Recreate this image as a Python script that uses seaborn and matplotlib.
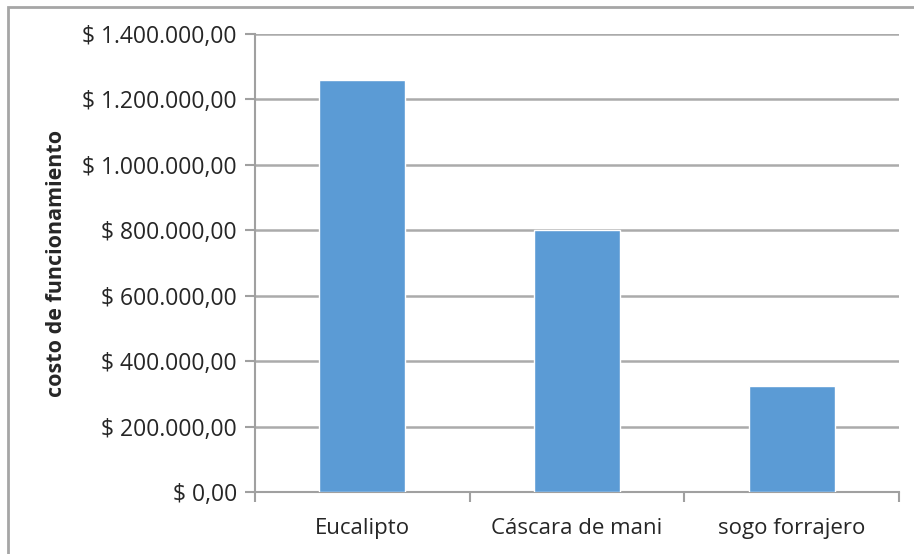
import matplotlib
matplotlib.use("Agg")
import matplotlib.pyplot as plt
import seaborn as sns
import pandas as pd
from matplotlib.ticker import FuncFormatter, FixedLocator
from matplotlib.patches import Rectangle

# datos
categorias = ["Eucalipto", "Cáscara de mani", "sogo forrajero"]
costos = [1260000, 800000, 325000]
df = pd.DataFrame({"material": categorias, "costo": costos})

sns.set_style("white")
plt.rcParams["font.family"] = ["Open Sans", "DejaVu Sans"]

fig = plt.figure(figsize=(9.14, 5.54), dpi=100)
ax = fig.add_axes([255 / 914, 1 - 492 / 554, (899 - 255) / 914, (492 - 34) / 554])

sns.barplot(data=df, x="material", y="costo", color="#5B9BD5", width=0.4,
            saturation=1, ax=ax, zorder=3)

# ejes
ax.set_ylim(0, 1400000)
ax.set_yticks(range(0, 1400001, 200000))
ax.set_xlim(-0.5, 2.5)


def pesos(v, pos):
    s = f"{v:,.2f}".replace(",", "X").replace(".", ",").replace("X", ".")
    return "$ " + s


ax.yaxis.set_major_formatter(FuncFormatter(pesos))
ax.grid(axis="y", color="#ABABAB", linewidth=1.8, zorder=0)
ax.grid(axis="x", visible=False)

for side in ["top", "right"]:
    ax.spines[side].set_visible(False)
for side in ["left", "bottom"]:
    ax.spines[side].set_color("#A0A0A0")
    ax.spines[side].set_linewidth(1.5)

ax.tick_params(axis="y", which="major", direction="out", length=7, width=1.5,
               color="#A0A0A0", labelsize=16.5, pad=6, left=True)
ax.tick_params(axis="x", which="major", length=0, labelsize=16, pad=19)
ax.xaxis.set_minor_locator(FixedLocator([-0.5, 0.5, 1.5, 2.5]))
ax.tick_params(axis="x", which="minor", direction="out", length=7, width=1.5,
               color="#A0A0A0", bottom=True)

ax.set_xlabel("")
ax.set_ylabel("costo de funcionamiento", fontsize=15.5, fontweight="bold")
ax.yaxis.set_label_coords((67 - 255) / (899 - 255), 0.5)

# marco del grafico
fig.patches.append(Rectangle((8 / 914, -0.1), 1.2, 1 - 7 / 554 + 0.1,
                             transform=fig.transFigure, fill=False,
                             edgecolor="#A6A6A6", linewidth=2))

fig.savefig("out.png", dpi=100)
